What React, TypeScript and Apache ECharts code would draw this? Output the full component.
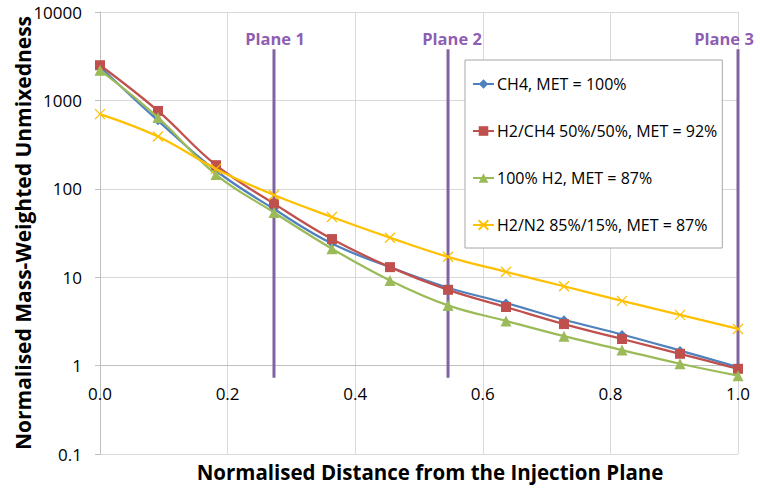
import React, { useEffect, useRef } from "react";
import * as echarts from "echarts";

const distances = [0, 0.0909, 0.1818, 0.2727, 0.3636, 0.4545, 0.5455, 0.6364, 0.7273, 0.8182, 0.9091, 1.0];
const seriesNames = [
  "CH4, MET = 100%",
  "H2/CH4 50%/50%, MET = 92%",
  "100% H2, MET = 87%",
  "H2/N2 85%/15%, MET = 87%",
];
const ch4 = [2400, 590, 160, 59, 24, 13, 7.6, 5.1, 3.3, 2.25, 1.48, 0.96];
const h2ch4 = [2500, 760, 185, 68, 27, 13, 7.2, 4.6, 2.95, 2.0, 1.36, 0.92];
const h2 = [2200, 640, 145, 54, 21, 9.2, 4.8, 3.2, 2.15, 1.5, 1.05, 0.77];
const h2n2 = [700, 390, 168, 85, 48, 28, 17, 11.5, 7.9, 5.4, 3.75, 2.6];
const planeNames = ["Plane 1", "Plane 2", "Plane 3"];
const planeX = [0.2727, 0.5455, 1.0];
const planeTop = 3800;
const planeBottom = 0.73;
const planeLabelY = 4950;
const xTicks = [0, 0.2, 0.4, 0.6, 0.8, 1.0];

const FONT = "Open Sans";

export default function App() {
  const ref = useRef<HTMLDivElement>(null);
  useEffect(() => {
    if (!ref.current) return;
    const chart = echarts.init(ref.current, undefined, { renderer: "svg" });
    const colors = ["#4F81BD", "#C0504D", "#9BBB59", "#FFC000"];
    const symbols = ["diamond", "rect", "triangle", "path://M0,0L10,10M10,0L0,10"];
    const sizes = [9, 10, 11, 10];
    const values = [ch4, h2ch4, h2, h2n2];
    const labelOffsets = [[1, 0], [4, 0], [-14, 0]];

    const planeSeries = planeX.map((x, i) => ({
      type: "line",
      name: planeNames[i],
      data: [
        [x, planeTop],
        [x, planeBottom],
      ],
      symbol: "none",
      lineStyle: { color: "#8064A2", width: 3 },
      z: 1,
      silent: true,
    }));

    const planeLabels = {
      type: "scatter",
      name: "planeLabels",
      data: planeX.map((x, i) => ({
        value: [x, planeLabelY],
        name: planeNames[i],
        label: { offset: labelOffsets[i] },
      })),
      symbolSize: 0,
      z: 3,
      silent: true,
      label: {
        show: true,
        position: "inside",
        formatter: (p: any) => p.name,
        color: "#7030A0",
        fontFamily: FONT,
        fontWeight: "bold",
        fontSize: 16.5,
      },
    };

    const dataSeries = values.map((v, i) => ({
      type: "line",
      name: seriesNames[i],
      data: distances.map((d, j) => [d, v[j]]),
      smooth: 0.4,
      symbol: symbols[i],
      symbolSize: sizes[i],
      showSymbol: true,
      lineStyle: { color: colors[i], width: 2.25 },
      itemStyle:
        i === 3
          ? { color: colors[i], borderColor: colors[i], borderWidth: 1.3 }
          : { color: colors[i] },
      z: 5 + i,
    }));

    chart.setOption({
      animation: false,
      backgroundColor: "#ffffff",
      grid: { left: 100, right: 22, top: 12, bottom: 42, outerBoundsMode: "none", containLabel: false },
      legend: {
        orient: "vertical",
        left: 465,
        top: 60,
        data: seriesNames,
        backgroundColor: "#ffffff",
        borderColor: "#A6A6A6",
        borderWidth: 1,
        borderRadius: 0,
        padding: [16, 5, 15, 7],
        itemGap: 31,
        itemWidth: 21,
        itemHeight: 12,
        textStyle: { fontFamily: FONT, fontSize: 16, color: "#000000", padding: [0, 0, 0, -2] },
        z: 10,
      },
      xAxis: {
        type: "value",
        min: 0,
        max: 1,
        interval: 0.2,
        offset: -89,
        axisLine: { show: true, onZero: false, lineStyle: { color: "#BFBFBF" } },
        axisTick: { show: false },
        axisLabel: {
          margin: 20,
          fontFamily: FONT,
          fontSize: 17,
          color: "#000000",
          formatter: (v: number) => v.toFixed(1),
          customValues: xTicks,
        },
        splitLine: { show: true, lineStyle: { color: "#D9D9D9", width: 1 } },
        name: "Normalised Distance from the Injection Plane",
        nameLocation: "middle",
        nameGap: 96,
        nameMoveOverlap: false,
        nameTextStyle: {
          fontFamily: FONT,
          fontWeight: "bold",
          fontSize: 20.5,
          color: "#000000",
          padding: [0, 0, 0, 22],
        },
      },
      yAxis: {
        type: "log",
        logBase: 10,
        min: 0.1,
        max: 10000,
        axisLine: { show: true, lineStyle: { color: "#BFBFBF" } },
        axisTick: { show: true, length: 5, lineStyle: { color: "#BFBFBF" } },
        axisLabel: {
          margin: 18,
          fontFamily: FONT,
          fontSize: 17,
          color: "#000000",
          formatter: (v: number) => String(v),
        },
        splitLine: { show: true, lineStyle: { color: "#D9D9D9", width: 1 } },
        name: "Normalised Mass-Weighted Unmixedness",
        nameLocation: "middle",
        nameRotate: 90,
        nameGap: 67,
        nameMoveOverlap: false,
        nameTextStyle: {
          fontFamily: FONT,
          fontWeight: "bold",
          fontSize: 21,
          color: "#000000",
        },
      },
      series: [...planeSeries, planeLabels, ...dataSeries],
    });
    return () => chart.dispose();
  }, []);
  return (
    <div
      ref={ref}
      style={{ position: "absolute", left: 0, top: 0, width: 760, height: 496 }}
    />
  );
}
